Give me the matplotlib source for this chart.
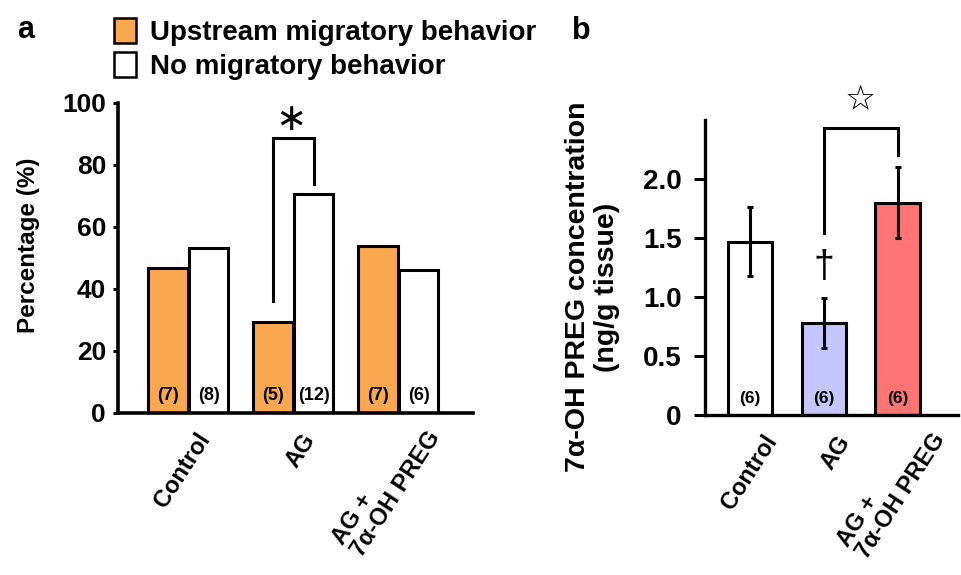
import matplotlib
matplotlib.use("Agg")
import matplotlib.pyplot as plt
from matplotlib.patches import Patch
from matplotlib.transforms import ScaledTranslation
import numpy as np

plt.rcParams['font.family'] = ['Liberation Sans', 'DejaVu Sans']
plt.rcParams['font.weight'] = 'bold'
plt.rcParams['axes.labelweight'] = 'bold'

# ---- data ----
groups_a = ["Control", "AG", "AG +\n7α-OH PREG"]
pct_upstream = [46.7, 29.4, 53.8]
pct_none = [53.3, 70.6, 46.2]
n_upstream = [7, 5, 7]
n_none = [8, 12, 6]

groups_b = ["Control", "AG", "AG +\n7α-OH PREG"]
conc_mean = [1.47, 0.78, 1.80]
conc_sem = [0.29, 0.21, 0.30]
n_b = [6, 6, 6]

legend_labels = ["Upstream migratory behavior", "No migratory behavior"]

orange = "#F9A84F"
colors_b = ["white", "#C6C6FF", "#FF7474"]

W, H = 962, 575
fig = plt.figure(figsize=(W / 100, H / 100), dpi=100)

def px_axes(l, t, r, b):
    return [l / W, 1 - b / H, (r - l) / W, (b - t) / H]

axa = fig.add_axes(px_axes(118, 103, 473, 413))
axb = fig.add_axes(px_axes(705, 120, 958, 415))

# ---- panel a ----
xa = np.arange(len(groups_a))
bw = 0.38
off = 0.195
axa.bar(xa - off, pct_upstream, bw, color=orange, edgecolor='black', linewidth=2.2)
axa.bar(xa + off, pct_none, bw, color='white', edgecolor='black', linewidth=2.2)
for i in range(len(xa)):
    axa.text(xa[i] - off, 5.8, f"({n_upstream[i]})", ha='center', va='center', fontsize=13)
    axa.text(xa[i] + off, 5.8, f"({n_none[i]})", ha='center', va='center', fontsize=13)

axa.set_xlim(-0.667, 2.714)
axa.set_ylim(0, 100)
axa.set_yticks([0, 20, 40, 60, 80, 100])
axa.tick_params(axis='y', direction='out', length=3.6, width=2.2, pad=5, labelsize=19)
axa.spines['top'].set_visible(False)
axa.spines['right'].set_visible(False)
axa.spines['left'].set_linewidth(2.6)
axa.spines['bottom'].set_linewidth(2.6)
axa.set_ylabel("Percentage (%)", fontsize=17.5, va='center')
axa.yaxis.set_label_coords(-0.251, 0.542)

# significance bracket
axa.plot([1 - off, 1 - off, 1 + off, 1 + off], [36, 88.7, 88.7, 74], color='black', lw=2.2,
         solid_joinstyle='miter')
axa.text(0.98, 94.5, "∗", ha='center', va='center', fontsize=27, fontweight='normal',
         family='DejaVu Sans')

# ---- panel b ----
xb = np.arange(len(groups_b))
axb.bar(xb, conc_mean, 0.6, color=colors_b, edgecolor='black', linewidth=2.2)
axb.errorbar(xb, conc_mean, yerr=conc_sem, fmt='none', ecolor='black', elinewidth=2.2,
             capsize=2.5, capthick=2.2)
for i in range(len(xb)):
    axb.text(xb[i], 0.144, f"({n_b[i]})", ha='center', va='center', fontsize=12.5)

axb.set_xlim(-0.61, 2.82)
axb.set_ylim(0, 2.5)
axb.set_yticks([0, 0.5, 1.0, 1.5, 2.0])
axb.set_yticklabels(["0", "0.5", "1.0", "1.5", "2.0"])
axb.tick_params(axis='y', direction='out', length=8, width=2.2, pad=9, labelsize=20)
axb.spines['top'].set_visible(False)
axb.spines['right'].set_visible(False)
axb.spines['left'].set_linewidth(2.4)
axb.spines['bottom'].set_linewidth(2.4)
axb.set_ylabel("7α-OH PREG concentration\n(ng/g tissue)", fontsize=20.5, va='center',
               linespacing=1.15)
axb.yaxis.set_label_coords(-0.443, 0.434)

axb.plot([1, 1, 2, 2], [1.54, 2.43, 2.43, 2.2], color='black', lw=2.2, clip_on=False,
         solid_joinstyle='miter')
axb.text(1.5, 2.67, "☆", ha='center', va='center', fontsize=25, fontweight='bold',
         family='DejaVu Sans', clip_on=False)
axb.text(1, 1.25, "†", ha='center', va='center', fontsize=27, fontweight='normal')

# ---- x tick labels ----
for ax, x, labels, extra in [(axa, xa, groups_a, 0.03), (axb, xb, groups_b, 0.08)]:
    ax.set_xticks(x)
    ax.set_xticklabels(labels, rotation=57, rotation_mode='anchor', ha='right', va='center',
                       fontsize=17, linespacing=1.0, multialignment='left')
    ax.tick_params(axis='x', length=0, pad=16)
    tl = ax.get_xticklabels()
    for j, t in enumerate(tl):
        if j < 2:
            t.set_transform(t.get_transform() +
                            ScaledTranslation(0.14 + extra, 0, fig.dpi_scale_trans))
        else:
            t.set_transform(t.get_transform() +
                            ScaledTranslation(0.23 + extra + 0.02, 0.08, fig.dpi_scale_trans))

# ---- legend & panel letters ----
handles = [Patch(facecolor=orange, edgecolor='black', linewidth=1.8),
           Patch(facecolor='white', edgecolor='black', linewidth=1.8)]
fig.legend(handles, legend_labels, loc='upper left', bbox_to_anchor=(114 / W, 1 - 18 / H),
           frameon=False, fontsize=20, handlelength=0.8, handleheight=0.98,
           handletextpad=0.5, labelspacing=0.24, borderpad=0, borderaxespad=0)

fig.text(17 / W, 1 - 38 / H, "a", fontsize=22, fontweight='bold', va='baseline')
fig.text(572 / W, 1 - 39 / H, "b", fontsize=22, fontweight='bold', va='baseline')

fig.savefig("out.png", dpi=100)
